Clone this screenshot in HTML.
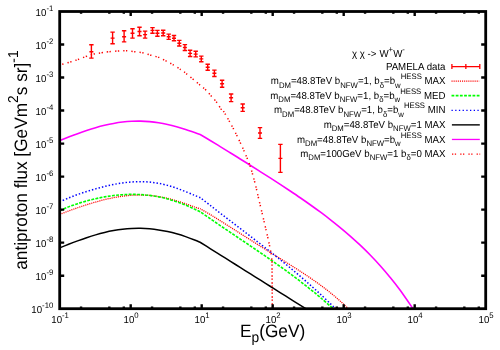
<!DOCTYPE html>
<html><head><meta charset="utf-8"><title>plot</title>
<style>html,body{margin:0;padding:0;background:#fff;}svg{display:block;will-change:transform;}text{font-family:"Liberation Sans",sans-serif;fill:#000;text-rendering:geometricPrecision;}</style></head><body>
<svg width="500" height="350" viewBox="0 0 500 350">
<rect width="500" height="350" fill="#fff"/>
<clipPath id="c"><rect x="59.70" y="11.50" width="426.00" height="297.20"/></clipPath>
<g clip-path="url(#c)" fill="none">
<g stroke="#ff0000" stroke-width="1.4">
<path d="M91.40,44.80 V58.10 M89.20,44.80 H93.60 M89.20,58.10 H93.60 M89.40,51.80 H93.40"/>
<path d="M112.60,32.10 V43.70 M110.40,32.10 H114.80 M110.40,43.70 H114.80 M110.60,38.10 H114.60"/>
<path d="M124.10,30.80 V41.90 M121.90,30.80 H126.30 M121.90,41.90 H126.30 M122.10,36.70 H126.10"/>
<path d="M132.50,28.70 V38.10 M130.30,28.70 H134.70 M130.30,38.10 H134.70 M130.50,33.20 H134.50"/>
<path d="M139.50,27.30 V35.70 M137.30,27.30 H141.70 M137.30,35.70 H141.70 M137.50,31.50 H141.50"/>
<path d="M145.10,31.10 V38.10 M142.90,31.10 H147.30 M142.90,38.10 H147.30 M143.10,34.60 H147.10"/>
<path d="M152.50,27.60 V33.20 M150.30,27.60 H154.70 M150.30,33.20 H154.70 M150.50,30.40 H154.50"/>
<path d="M157.40,30.40 V36.30 M155.20,30.40 H159.60 M155.20,36.30 H159.60 M155.40,33.20 H159.40"/>
<path d="M163.20,30.20 V35.80 M161.00,30.20 H165.40 M161.00,35.80 H165.40 M161.20,33.00 H165.20"/>
<path d="M168.70,34.10 V39.40 M166.50,34.10 H170.90 M166.50,39.40 H170.90 M166.70,36.80 H170.70"/>
<path d="M174.00,35.50 V40.80 M171.80,35.50 H176.20 M171.80,40.80 H176.20 M172.00,38.20 H176.00"/>
<path d="M179.30,40.40 V46.00 M177.10,40.40 H181.50 M177.10,46.00 H181.50 M177.30,43.20 H181.30"/>
<path d="M184.90,44.60 V50.50 M182.70,44.60 H187.10 M182.70,50.50 H187.10 M182.90,47.50 H186.90"/>
<path d="M190.10,50.20 V56.50 M187.90,50.20 H192.30 M187.90,56.50 H192.30 M188.10,53.40 H192.10"/>
<path d="M195.70,51.30 V56.90 M193.50,51.30 H197.90 M193.50,56.90 H197.90 M193.70,54.10 H197.70"/>
<path d="M201.30,56.10 V61.70 M199.10,56.10 H203.50 M199.10,61.70 H203.50 M199.30,58.90 H203.30"/>
<path d="M207.70,64.20 V70.20 M205.50,64.20 H209.90 M205.50,70.20 H209.90 M205.70,67.20 H209.70"/>
<path d="M214.40,70.10 V76.50 M212.20,70.10 H216.60 M212.20,76.50 H216.60 M212.40,73.30 H216.40"/>
<path d="M222.10,80.30 V87.30 M219.90,80.30 H224.30 M219.90,87.30 H224.30 M220.10,83.80 H224.10"/>
<path d="M231.10,94.00 V101.60 M228.90,94.00 H233.30 M228.90,101.60 H233.30 M229.10,97.80 H233.10"/>
<path d="M242.70,104.00 V111.40 M240.50,104.00 H244.90 M240.50,111.40 H244.90 M240.70,107.70 H244.70"/>
<path d="M260.00,127.60 V138.40 M257.80,127.60 H262.20 M257.80,138.40 H262.20 M258.00,133.00 H262.00"/>
<path d="M280.40,144.40 V172.40 M278.20,144.40 H282.60 M278.20,172.40 H282.60 M278.40,158.40 H282.40"/>
</g>
<path d="M59.60,214.52 C61.10,213.93 65.60,212.12 68.60,210.99 C71.60,209.86 74.60,208.79 77.60,207.75 C80.60,206.71 83.60,205.71 86.60,204.76 C89.60,203.81 92.60,202.90 95.60,202.05 C98.60,201.20 101.60,200.39 104.60,199.66 C107.60,198.93 110.60,198.26 113.60,197.68 C116.60,197.10 119.60,196.59 122.60,196.18 C125.60,195.78 128.60,195.45 131.60,195.25 C134.60,195.05 137.60,194.95 140.60,194.98 C143.60,195.00 146.60,195.14 149.60,195.40 C152.60,195.66 155.60,196.05 158.60,196.55 C161.60,197.05 164.60,197.67 167.60,198.39 C170.60,199.11 173.60,199.96 176.60,200.86 C179.60,201.76 182.60,202.78 185.60,203.80 C188.60,204.82 192.10,206.13 194.60,206.99 C197.10,207.85 199.60,208.63 200.60,208.96  C202.27,209.93 207.27,212.75 210.60,214.75 C213.93,216.75 217.27,218.87 220.60,220.96 C223.93,223.05 227.27,225.18 230.60,227.30 C233.93,229.42 237.27,231.56 240.60,233.69 C243.93,235.81 247.27,237.94 250.60,240.05 C253.93,242.16 257.27,244.27 260.60,246.36 C263.93,248.45 267.27,250.53 270.60,252.61 C273.93,254.69 277.27,256.75 280.60,258.83 C283.93,260.91 287.27,262.99 290.60,265.10 C293.93,267.21 297.27,269.31 300.60,271.49 C303.93,273.67 307.27,275.86 310.60,278.15 C313.93,280.44 317.27,282.76 320.60,285.22 C323.93,287.68 327.27,290.21 330.60,292.91 C333.93,295.61 337.52,298.66 340.60,301.43 C343.68,304.20 347.68,308.17 349.10,309.52" stroke="#ff0000" stroke-width="1.3" stroke-dasharray="1.1 1.0"/>
<path d="M59.60,210.68 C61.10,210.05 65.60,208.05 68.60,206.88 C71.60,205.71 74.60,204.64 77.60,203.65 C80.60,202.66 83.60,201.77 86.60,200.94 C89.60,200.11 92.60,199.37 95.60,198.69 C98.60,198.01 101.60,197.41 104.60,196.89 C107.60,196.37 110.60,195.92 113.60,195.56 C116.60,195.20 119.60,194.91 122.60,194.71 C125.60,194.51 128.60,194.39 131.60,194.37 C134.60,194.35 137.60,194.42 140.60,194.59 C143.60,194.76 146.60,195.03 149.60,195.41 C152.60,195.79 155.60,196.26 158.60,196.85 C161.60,197.44 164.60,198.13 167.60,198.94 C170.60,199.75 173.60,200.67 176.60,201.70 C179.60,202.73 182.60,203.86 185.60,205.10 C188.60,206.34 192.10,207.98 194.60,209.13 C197.10,210.28 199.60,211.54 200.60,212.02  C202.27,213.17 207.27,216.64 210.60,218.94 C213.93,221.24 217.27,223.54 220.60,225.81 C223.93,228.08 227.27,230.33 230.60,232.58 C233.93,234.83 237.27,237.06 240.60,239.31 C243.93,241.56 247.27,243.79 250.60,246.05 C253.93,248.31 257.27,250.57 260.60,252.85 C263.93,255.13 267.27,257.42 270.60,259.75 C273.93,262.08 277.27,264.43 280.60,266.82 C283.93,269.21 287.27,271.62 290.60,274.09 C293.93,276.56 297.27,279.06 300.60,281.63 C303.93,284.20 307.27,286.81 310.60,289.49 C313.93,292.17 316.72,294.41 320.60,297.71 C324.48,301.01 331.68,307.37 333.90,309.30" stroke="#00ff00" stroke-width="1.6" stroke-dasharray="2.9 1.3"/>
<path d="M59.60,201.91 C61.10,201.25 65.60,199.18 68.60,197.95 C71.60,196.72 74.60,195.61 77.60,194.54 C80.60,193.47 83.60,192.48 86.60,191.53 C89.60,190.58 92.60,189.69 95.60,188.85 C98.60,188.01 101.60,187.21 104.60,186.48 C107.60,185.75 110.60,185.06 113.60,184.47 C116.60,183.88 119.60,183.35 122.60,182.93 C125.60,182.51 128.60,182.17 131.60,181.95 C134.60,181.73 137.60,181.61 140.60,181.63 C143.60,181.65 146.60,181.79 149.60,182.07 C152.60,182.35 155.60,182.78 158.60,183.33 C161.60,183.89 164.60,184.59 167.60,185.40 C170.60,186.21 173.60,187.18 176.60,188.21 C179.60,189.25 182.60,190.42 185.60,191.61 C188.60,192.80 192.10,194.30 194.60,195.34 C197.10,196.38 199.60,197.42 200.60,197.83  C202.27,199.14 207.27,203.10 210.60,205.70 C213.93,208.30 217.27,210.88 220.60,213.45 C223.93,216.02 227.27,218.57 230.60,221.12 C233.93,223.67 237.27,226.21 240.60,228.76 C243.93,231.31 247.27,233.86 250.60,236.43 C253.93,239.00 257.27,241.56 260.60,244.16 C263.93,246.75 267.27,249.36 270.60,252.00 C273.93,254.64 277.27,257.29 280.60,259.99 C283.93,262.69 287.27,265.41 290.60,268.18 C293.93,270.95 297.27,273.76 300.60,276.62 C303.93,279.48 307.27,282.39 310.60,285.36 C313.93,288.33 317.27,291.34 320.60,294.42 C323.93,297.50 327.97,301.35 330.60,303.87 C333.23,306.39 335.43,308.60 336.40,309.55" stroke="#0000ff" stroke-width="1.5" stroke-dasharray="1.45 2.0"/>
<path d="M59.60,247.92 C61.10,247.32 65.60,245.50 68.60,244.32 C71.60,243.14 74.60,241.98 77.60,240.87 C80.60,239.76 83.60,238.68 86.60,237.68 C89.60,236.68 92.60,235.72 95.60,234.85 C98.60,233.98 101.60,233.18 104.60,232.47 C107.60,231.76 110.60,231.13 113.60,230.59 C116.60,230.05 119.60,229.60 122.60,229.25 C125.60,228.90 128.60,228.65 131.60,228.50 C134.60,228.35 137.60,228.30 140.60,228.35 C143.60,228.40 146.60,228.55 149.60,228.81 C152.60,229.07 155.60,229.43 158.60,229.89 C161.60,230.35 164.60,230.91 167.60,231.57 C170.60,232.23 173.60,232.98 176.60,233.83 C179.60,234.68 182.60,235.62 185.60,236.66 C188.60,237.69 192.12,239.06 194.60,240.04 C197.08,241.02 199.52,242.11 200.50,242.52  C202.17,243.56 207.17,246.70 210.50,248.79 C213.83,250.88 217.17,252.97 220.50,255.07 C223.83,257.17 227.17,259.26 230.50,261.36 C233.83,263.46 237.17,265.54 240.50,267.64 C243.83,269.74 247.17,271.83 250.50,273.93 C253.83,276.03 257.17,278.12 260.50,280.22 C263.83,282.32 267.17,284.40 270.50,286.50 C273.83,288.60 277.17,290.70 280.50,292.79 C283.83,294.88 287.17,296.98 290.50,299.07 C293.83,301.16 297.88,303.72 300.50,305.36 C303.12,307.00 305.25,308.34 306.20,308.94" stroke="#000" stroke-width="1.5"/>
<path d="M59.60,140.72 C61.10,140.11 65.60,138.25 68.60,137.07 C71.60,135.89 74.60,134.74 77.60,133.64 C80.60,132.54 83.60,131.48 86.60,130.49 C89.60,129.50 92.60,128.56 95.60,127.70 C98.60,126.84 101.60,126.04 104.60,125.33 C107.60,124.62 110.60,123.97 113.60,123.43 C116.60,122.89 119.60,122.43 122.60,122.08 C125.60,121.73 128.60,121.47 131.60,121.31 C134.60,121.16 137.60,121.10 140.60,121.15 C143.60,121.20 146.60,121.36 149.60,121.62 C152.60,121.88 155.60,122.25 158.60,122.72 C161.60,123.19 164.60,123.77 167.60,124.43 C170.60,125.09 173.60,125.86 176.60,126.69 C179.60,127.52 182.60,128.46 185.60,129.44 C188.60,130.42 192.17,131.71 194.60,132.56 C197.03,133.41 199.27,134.23 200.20,134.57  C201.87,135.56 206.87,138.48 210.20,140.48 C213.53,142.48 216.87,144.52 220.20,146.56 C223.53,148.60 226.87,150.66 230.20,152.73 C233.53,154.79 236.87,156.87 240.20,158.95 C243.53,161.03 246.87,163.13 250.20,165.23 C253.53,167.33 256.87,169.44 260.20,171.56 C263.53,173.68 266.87,175.80 270.20,177.95 C273.53,180.09 276.87,182.25 280.20,184.43 C283.53,186.61 286.87,188.80 290.20,191.02 C293.53,193.25 296.87,195.49 300.20,197.78 C303.53,200.07 306.87,202.38 310.20,204.74 C313.53,207.11 316.87,209.50 320.20,211.97 C323.53,214.44 326.87,216.94 330.20,219.54 C333.53,222.13 336.87,224.79 340.20,227.54 C343.53,230.29 346.87,233.11 350.20,236.05 C353.53,238.99 356.87,242.02 360.20,245.18 C363.53,248.34 366.87,251.61 370.20,255.04 C373.53,258.47 376.87,262.01 380.20,265.75 C383.53,269.49 386.87,273.36 390.20,277.45 C393.53,281.54 396.22,284.80 400.20,290.27 C404.18,295.74 411.78,306.91 414.10,310.24" stroke="#ff00ff" stroke-width="1.6"/>
<path d="M59.60,65.10 C62.33,64.28 70.70,61.95 76.00,60.20 C81.30,58.45 87.17,55.83 91.40,54.60 C95.63,53.37 98.60,53.27 101.40,52.80 C104.20,52.33 105.40,52.10 108.20,51.80 C111.00,51.50 115.25,51.18 118.20,51.00 C121.15,50.82 123.22,50.58 125.90,50.70 C128.58,50.82 131.50,51.35 134.30,51.70 C137.10,52.05 139.90,52.20 142.70,52.80 C145.50,53.40 148.42,54.53 151.10,55.30 C153.78,56.07 156.27,56.43 158.80,57.40 C161.33,58.37 163.88,59.85 166.30,61.10 C168.72,62.35 170.85,63.45 173.30,64.90 C175.75,66.35 178.90,68.40 181.00,69.80 C183.10,71.20 182.62,70.67 185.90,73.30 C189.18,75.93 197.37,82.80 200.70,85.60 C204.03,88.40 204.03,88.25 205.90,90.10 C207.77,91.95 209.97,94.48 211.90,96.70 C213.83,98.92 215.98,101.35 217.50,103.40 C219.02,105.45 220.12,107.90 221.00,109.00 C221.88,110.10 220.40,106.07 222.80,110.00 C225.20,113.93 231.20,124.22 235.40,132.60 C239.60,140.98 244.85,152.33 248.00,160.30 C251.15,168.27 252.55,174.12 254.30,180.40 C256.05,186.68 256.68,190.35 258.50,198.00 C260.32,205.65 263.45,218.80 265.20,226.30 C266.95,233.80 267.98,238.22 269.00,243.00 C270.02,247.78 270.83,252.07 271.30,255.00 C271.77,257.93 271.72,259.67 271.80,260.60" stroke="#ff0000" stroke-width="1.5" stroke-dasharray="1.3 1.5 1.3 4.1"/>
<path d="M272.0,261.35 L272.3,308" stroke="#ff0000" stroke-width="1.5" stroke-dasharray="1.3 1.8 1.3 2.6"/>
</g>
<g stroke="#000" fill="none">
<rect x="59.70" y="11.50" width="426.00" height="297.20" stroke-width="2.8"/>
<path d="M81.07,308.70 v-2.30 M81.07,11.50 v2.30 M109.33,308.70 v-2.30 M109.33,11.50 v2.30 M123.82,308.70 v-2.30 M123.82,11.50 v2.30 M130.70,308.70 v-4.50 M130.70,11.50 v4.50 M152.07,308.70 v-2.30 M152.07,11.50 v2.30 M180.33,308.70 v-2.30 M180.33,11.50 v2.30 M194.82,308.70 v-2.30 M194.82,11.50 v2.30 M201.70,308.70 v-4.50 M201.70,11.50 v4.50 M223.07,308.70 v-2.30 M223.07,11.50 v2.30 M251.33,308.70 v-2.30 M251.33,11.50 v2.30 M265.82,308.70 v-2.30 M265.82,11.50 v2.30 M272.70,308.70 v-4.50 M272.70,11.50 v4.50 M294.07,308.70 v-2.30 M294.07,11.50 v2.30 M322.33,308.70 v-2.30 M322.33,11.50 v2.30 M336.82,308.70 v-2.30 M336.82,11.50 v2.30 M343.70,308.70 v-4.50 M343.70,11.50 v4.50 M365.07,308.70 v-2.30 M365.07,11.50 v2.30 M393.33,308.70 v-2.30 M393.33,11.50 v2.30 M407.82,308.70 v-2.30 M407.82,11.50 v2.30 M414.70,308.70 v-4.50 M414.70,11.50 v4.50 M436.07,308.70 v-2.30 M436.07,11.50 v2.30 M464.33,308.70 v-2.30 M464.33,11.50 v2.30 M478.82,308.70 v-2.30 M478.82,11.50 v2.30 M59.70,44.52 h4.50 M485.70,44.52 h-4.50 M59.70,77.54 h4.50 M485.70,77.54 h-4.50 M59.70,110.57 h4.50 M485.70,110.57 h-4.50 M59.70,143.59 h4.50 M485.70,143.59 h-4.50 M59.70,176.61 h4.50 M485.70,176.61 h-4.50 M59.70,209.63 h4.50 M485.70,209.63 h-4.50 M59.70,242.66 h4.50 M485.70,242.66 h-4.50 M59.70,275.68 h4.50 M485.70,275.68 h-4.50" stroke-width="2.4"/>
</g>
<g>
<text transform="translate(53.30,16.00) scale(1,1.040)" font-size="9.70" text-anchor="end">10<tspan font-size="7.76" dy="-5.04">-1</tspan></text>
<text transform="translate(53.30,49.02) scale(1,1.040)" font-size="9.70" text-anchor="end">10<tspan font-size="7.76" dy="-5.04">-2</tspan></text>
<text transform="translate(53.30,82.04) scale(1,1.040)" font-size="9.70" text-anchor="end">10<tspan font-size="7.76" dy="-5.04">-3</tspan></text>
<text transform="translate(53.30,115.07) scale(1,1.040)" font-size="9.70" text-anchor="end">10<tspan font-size="7.76" dy="-5.04">-4</tspan></text>
<text transform="translate(53.30,148.09) scale(1,1.040)" font-size="9.70" text-anchor="end">10<tspan font-size="7.76" dy="-5.04">-5</tspan></text>
<text transform="translate(53.30,181.11) scale(1,1.040)" font-size="9.70" text-anchor="end">10<tspan font-size="7.76" dy="-5.04">-6</tspan></text>
<text transform="translate(53.30,214.13) scale(1,1.040)" font-size="9.70" text-anchor="end">10<tspan font-size="7.76" dy="-5.04">-7</tspan></text>
<text transform="translate(53.30,247.16) scale(1,1.040)" font-size="9.70" text-anchor="end">10<tspan font-size="7.76" dy="-5.04">-8</tspan></text>
<text transform="translate(53.30,280.18) scale(1,1.040)" font-size="9.70" text-anchor="end">10<tspan font-size="7.76" dy="-5.04">-9</tspan></text>
<text transform="translate(53.30,313.20) scale(1,1.040)" font-size="9.70" text-anchor="end">10<tspan font-size="7.76" dy="-5.04">-10</tspan></text>
<text transform="translate(60.10,322.90) scale(1,1.040)" font-size="9.70" text-anchor="middle">10<tspan font-size="7.76" dy="-5.04">-1</tspan></text>
<text transform="translate(131.10,322.90) scale(1,1.040)" font-size="9.70" text-anchor="middle">10<tspan font-size="7.76" dy="-5.04">0</tspan></text>
<text transform="translate(202.10,322.90) scale(1,1.040)" font-size="9.70" text-anchor="middle">10<tspan font-size="7.76" dy="-5.04">1</tspan></text>
<text transform="translate(273.10,322.90) scale(1,1.040)" font-size="9.70" text-anchor="middle">10<tspan font-size="7.76" dy="-5.04">2</tspan></text>
<text transform="translate(344.10,322.90) scale(1,1.040)" font-size="9.70" text-anchor="middle">10<tspan font-size="7.76" dy="-5.04">3</tspan></text>
<text transform="translate(415.10,322.90) scale(1,1.040)" font-size="9.70" text-anchor="middle">10<tspan font-size="7.76" dy="-5.04">4</tspan></text>
<text transform="translate(486.10,322.90) scale(1,1.040)" font-size="9.70" text-anchor="middle">10<tspan font-size="7.76" dy="-5.04">5</tspan></text>
<text transform="translate(272.6,337.0) scale(1,1.04)" font-size="17.25" text-anchor="middle">E<tspan font-size="13.80" dy="4.83">p</tspan><tspan font-size="17.25" dy="-4.83">(GeV)</tspan></text>
<text transform="translate(27.2,160.1) rotate(-90) scale(1,1.04)" font-size="17.25" text-anchor="middle">antiproton flux [GeVm<tspan font-size="13.80" dy="-8.62">2</tspan><tspan font-size="17.25" dy="8.62">s sr]</tspan><tspan font-size="13.80" dy="-8.62">-1</tspan></text>
<text transform="translate(445.50,69.65) scale(1,1.040)" font-size="9.70" text-anchor="end" style="white-space:pre"><tspan font-size="9.70" dy="0.00">PAMELA data</tspan></text>
<text transform="translate(445.50,84.23) scale(1,1.040)" font-size="9.70" text-anchor="end" style="white-space:pre"><tspan font-size="9.70" dy="0.00">m</tspan><tspan font-size="7.76" dy="3.20">DM</tspan><tspan font-size="9.70" dy="-3.20">=48.8TeV b</tspan><tspan font-size="7.76" dy="3.20">NFW</tspan><tspan font-size="9.70" dy="-3.20">=1, b</tspan><tspan font-size="7.76" dy="3.20">&#948;</tspan><tspan font-size="9.70" dy="-3.20">=b</tspan><tspan font-size="7.76" dy="3.20">w</tspan><tspan font-size="7.76" dy="-8.05">HESS</tspan><tspan font-size="9.70" dy="4.85"> MAX</tspan></text>
<text transform="translate(445.50,98.81) scale(1,1.040)" font-size="9.70" text-anchor="end" style="white-space:pre"><tspan font-size="9.70" dy="0.00">m</tspan><tspan font-size="7.76" dy="3.20">DM</tspan><tspan font-size="9.70" dy="-3.20">=48.8TeV b</tspan><tspan font-size="7.76" dy="3.20">NFW</tspan><tspan font-size="9.70" dy="-3.20">=1, b</tspan><tspan font-size="7.76" dy="3.20">&#948;</tspan><tspan font-size="9.70" dy="-3.20">=b</tspan><tspan font-size="7.76" dy="3.20">w</tspan><tspan font-size="7.76" dy="-8.05">HESS</tspan><tspan font-size="9.70" dy="4.85"> MED</tspan></text>
<text transform="translate(445.50,113.39) scale(1,1.040)" font-size="9.70" text-anchor="end" style="white-space:pre"><tspan font-size="9.70" dy="0.00">m</tspan><tspan font-size="7.76" dy="3.20">DM</tspan><tspan font-size="9.70" dy="-3.20">=48.8TeV b</tspan><tspan font-size="7.76" dy="3.20">NFW</tspan><tspan font-size="9.70" dy="-3.20">=1, b</tspan><tspan font-size="7.76" dy="3.20">&#948;</tspan><tspan font-size="9.70" dy="-3.20">=b</tspan><tspan font-size="7.76" dy="3.20">w</tspan><tspan font-size="7.76" dy="-8.05">HESS</tspan><tspan font-size="9.70" dy="4.85"> MIN</tspan></text>
<text transform="translate(445.50,127.97) scale(1,1.040)" font-size="9.70" text-anchor="end" style="white-space:pre"><tspan font-size="9.70" dy="0.00">m</tspan><tspan font-size="7.76" dy="3.20">DM</tspan><tspan font-size="9.70" dy="-3.20">=48.8TeV b</tspan><tspan font-size="7.76" dy="3.20">NFW</tspan><tspan font-size="9.70" dy="-3.20">=1 MAX</tspan></text>
<text transform="translate(445.50,142.55) scale(1,1.040)" font-size="9.70" text-anchor="end" style="white-space:pre"><tspan font-size="9.70" dy="0.00">m</tspan><tspan font-size="7.76" dy="3.20">DM</tspan><tspan font-size="9.70" dy="-3.20">=48.8TeV b</tspan><tspan font-size="7.76" dy="3.20">NFW</tspan><tspan font-size="9.70" dy="-3.20">=b</tspan><tspan font-size="7.76" dy="3.20">w</tspan><tspan font-size="7.76" dy="-8.05">HESS</tspan><tspan font-size="9.70" dy="4.85"> MAX</tspan></text>
<text transform="translate(445.50,157.13) scale(1,1.040)" font-size="9.70" text-anchor="end" style="white-space:pre"><tspan font-size="9.70" dy="0.00">m</tspan><tspan font-size="7.76" dy="3.20">DM</tspan><tspan font-size="9.70" dy="-3.20">=100GeV b</tspan><tspan font-size="7.76" dy="3.20">NFW</tspan><tspan font-size="9.70" dy="-3.20">=1 b</tspan><tspan font-size="7.76" dy="3.20">&#948;</tspan><tspan font-size="9.70" dy="-3.20">=0 MAX</tspan></text>
<text transform="translate(351.90,56.90) scale(1,1.040)" font-size="9.70" text-anchor="start" style="white-space:pre"><tspan font-size="9.70" dy="0.00">&#967; &#967; -&gt;</tspan></text>
<text transform="translate(404.90,56.90) scale(1,1.040)" font-size="9.70" text-anchor="end" style="white-space:pre"><tspan font-size="9.70" dy="0.00">W</tspan><tspan font-size="7.76" dy="-4.85">+</tspan><tspan font-size="9.70" dy="4.85">W</tspan><tspan font-size="7.76" dy="-4.85">-</tspan></text>
</g>
<g fill="none">
<path d="M451.50,66.55 H480.20 M451.90,64.05 v5 M479.80,64.05 v5 M465.85,64.05 v5" stroke="#ff0000" stroke-width="1.3"/>
<path d="M451.50,81.13 H479.20" stroke="#ff0000" stroke-width="1.1" stroke-dasharray="1.1 1"/>
<path d="M451.50,95.71 H480.20" stroke="#00ff00" stroke-width="1.8" stroke-dasharray="2.8 1.4"/>
<path d="M451.50,110.29 H480.20" stroke="#0000ff" stroke-width="1.25" stroke-dasharray="1.3 2.4"/>
<path d="M451.90,124.87 H479.80" stroke="#000" stroke-width="1.4"/>
<path d="M451.90,139.45 H479.80" stroke="#ff00ff" stroke-width="1.3"/>
<path d="M452.00,154.03 H480.20" stroke="#ff0000" stroke-width="1.3" stroke-dasharray="1.3 1.5 1.3 4.1"/>
</g>
</svg></body></html>
